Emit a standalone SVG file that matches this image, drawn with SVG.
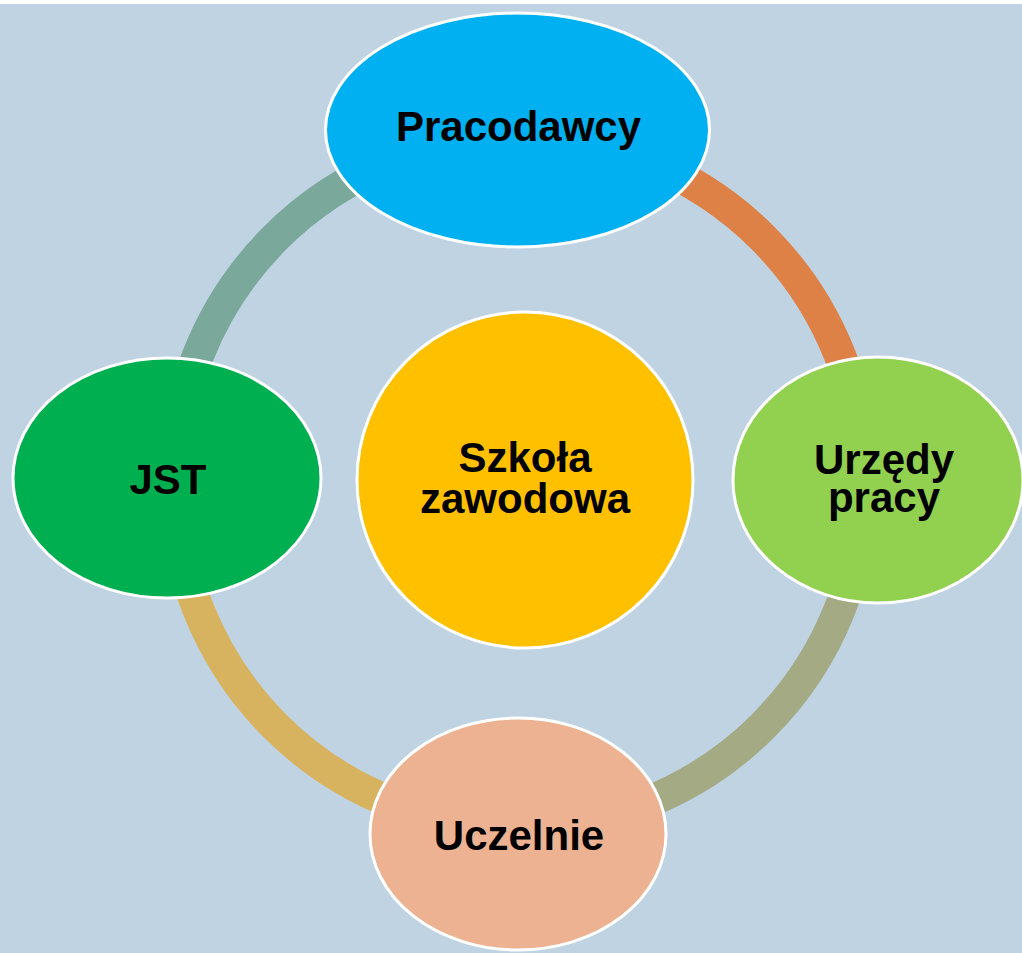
<svg xmlns="http://www.w3.org/2000/svg" width="1022" height="953" viewBox="0 0 1022 953">
  <style>
    .ring { fill: none; stroke-width: 32; }
    .node { stroke: #ffffff; stroke-width: 3; }
    .lbl { font-family: "Liberation Sans", Arial, sans-serif; font-weight: bold; font-size: 42px; fill: #000000; text-anchor: middle; }
  </style>
  <rect x="0" y="0" width="1022" height="953" fill="#ffffff"/>
  <rect x="0" y="4" width="1022" height="949" fill="#c0d3e3"/>
  <g id="connectors">
    <path class="ring" stroke="#de8147" d="M 519 137 A 345 345 0 0 1 864 482"/>
    <path class="ring" stroke="#a4aa83" d="M 864 482 A 345 345 0 0 1 519 827"/>
    <path class="ring" stroke="#d8b35f" d="M 519 827 A 345 345 0 0 1 174 482"/>
    <path class="ring" stroke="#7aa89b" d="M 174 482 A 345 345 0 0 1 519 137"/>
  </g>
  <g id="node-center">
    <circle class="node" cx="525" cy="480" r="168" fill="#ffc000"/>
    <text class="lbl" x="525" y="472">Szkoła</text>
    <text class="lbl" x="525" y="513">zawodowa</text>
  </g>
  <g id="node-pracodawcy">
    <ellipse class="node" cx="517.5" cy="130" rx="192" ry="117" fill="#00b0f0"/>
    <text class="lbl" x="518.5" y="141">Pracodawcy</text>
  </g>
  <g id="node-urzedy">
    <ellipse class="node" cx="878" cy="480" rx="145" ry="123" fill="#92d050"/>
    <text class="lbl" x="884" y="474">Urzędy</text>
    <text class="lbl" x="884" y="512">pracy</text>
  </g>
  <g id="node-uczelnie">
    <ellipse class="node" cx="518" cy="834" rx="148" ry="116" fill="#ecb291"/>
    <text class="lbl" x="519" y="850">Uczelnie</text>
  </g>
  <g id="node-jst">
    <ellipse class="node" cx="167" cy="478" rx="154" ry="120" fill="#00b050"/>
    <text class="lbl" x="168" y="494">JST</text>
  </g>
</svg>
